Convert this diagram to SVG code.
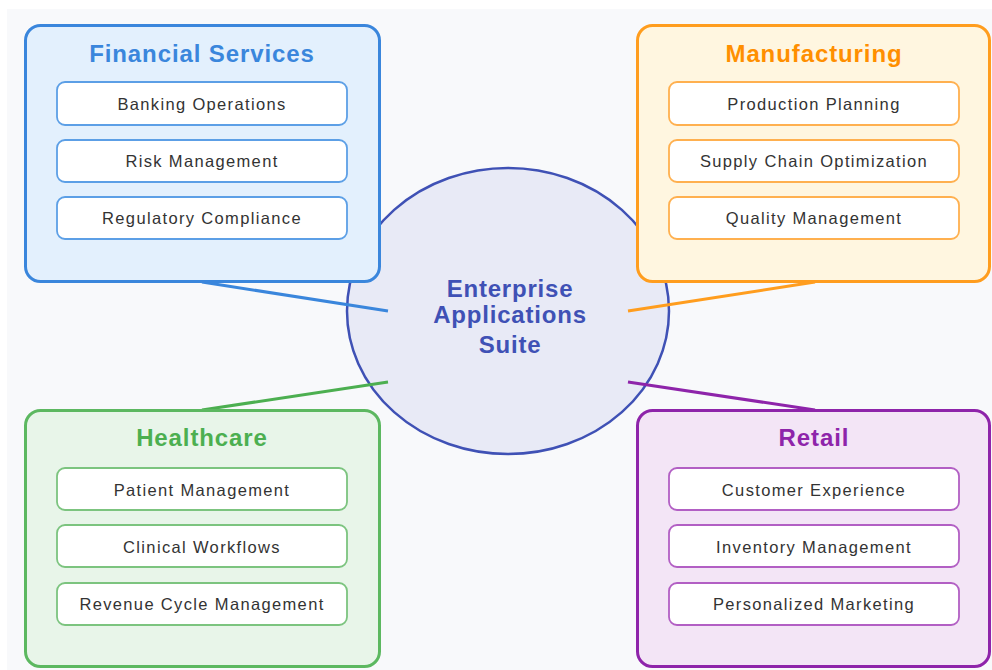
<svg xmlns="http://www.w3.org/2000/svg" width="992" height="670" viewBox="0 0 992 670">
<style>
.box{stroke-width:3}
.item{fill:#ffffff;stroke-width:1.8}
.title{font-family:"Liberation Sans",Arial,sans-serif;font-size:24px;font-weight:bold;text-anchor:middle;letter-spacing:0.9px}
.it{font-family:"Liberation Sans",Arial,sans-serif;font-size:16.5px;fill:#333333;text-anchor:middle;letter-spacing:1.35px}
.ct{font-family:"Liberation Sans",Arial,sans-serif;font-size:24px;font-weight:bold;fill:#3f51b5;text-anchor:middle;letter-spacing:0.8px}
.conn{stroke-width:3;fill:none}
</style>
<rect x="0" y="0" width="992" height="670" fill="#ffffff"/>
<rect x="7" y="9" width="985" height="661" fill="#f8f9fb"/>
<g id="center">
<ellipse cx="508" cy="311" rx="161" ry="143" fill="#e8eaf6" stroke="#3f51b5" stroke-width="2.5"/>
</g>
<g id="connectors">
<line class="conn" x1="202" y1="282" x2="388" y2="311" stroke="#3a86dc"/>
<line class="conn" x1="815" y1="282" x2="628" y2="311" stroke="#ff9d1e"/>
<line class="conn" x1="202" y1="410" x2="388" y2="382" stroke="#4caf50"/>
<line class="conn" x1="815" y1="410" x2="628" y2="382" stroke="#8e24aa"/>
</g>
<g id="financial">
<rect class="box" x="25.5" y="25.5" width="354" height="256" rx="15" fill="#e3f0fd" stroke="#3a86dc"/>
<text class="title" x="202" y="62" fill="#3a86dc">Financial Services</text>
<rect class="item" x="57" y="82" width="290" height="43" rx="8" stroke="#5c9fe6"/>
<text class="it" x="202" y="110">Banking Operations</text>
<rect class="item" x="57" y="140" width="290" height="42" rx="8" stroke="#5c9fe6"/>
<text class="it" x="202" y="167">Risk Management</text>
<rect class="item" x="57" y="197" width="290" height="42" rx="8" stroke="#5c9fe6"/>
<text class="it" x="202" y="224">Regulatory Compliance</text>
</g>
<g id="manufacturing">
<rect class="box" x="637.5" y="25.5" width="352" height="256" rx="15" fill="#fff6e0" stroke="#ff9d1e"/>
<text class="title" x="814" y="62" fill="#ff8f00">Manufacturing</text>
<rect class="item" x="669" y="82" width="290" height="43" rx="8" stroke="#ffb04f"/>
<text class="it" x="814" y="110">Production Planning</text>
<rect class="item" x="669" y="140" width="290" height="42" rx="8" stroke="#ffb04f"/>
<text class="it" x="814" y="167">Supply Chain Optimization</text>
<rect class="item" x="669" y="197" width="290" height="42" rx="8" stroke="#ffb04f"/>
<text class="it" x="814" y="224">Quality Management</text>
</g>
<g id="healthcare">
<rect class="box" x="25.5" y="410.5" width="354" height="256" rx="15" fill="#e8f5e9" stroke="#5cb860"/>
<text class="title" x="202" y="446" fill="#4caf50">Healthcare</text>
<rect class="item" x="57" y="468" width="290" height="42" rx="8" stroke="#7cc47f"/>
<text class="it" x="202" y="496">Patient Management</text>
<rect class="item" x="57" y="525" width="290" height="42" rx="8" stroke="#7cc47f"/>
<text class="it" x="202" y="553">Clinical Workflows</text>
<rect class="item" x="57" y="583" width="290" height="42" rx="8" stroke="#7cc47f"/>
<text class="it" x="202" y="610">Revenue Cycle Management</text>
</g>
<g id="retail">
<rect class="box" x="637.5" y="410.5" width="352" height="256" rx="15" fill="#f3e5f6" stroke="#8e24aa"/>
<text class="title" x="814" y="446" fill="#8e24aa">Retail</text>
<rect class="item" x="669" y="468" width="290" height="42" rx="8" stroke="#b25fc4"/>
<text class="it" x="814" y="496">Customer Experience</text>
<rect class="item" x="669" y="525" width="290" height="42" rx="8" stroke="#b25fc4"/>
<text class="it" x="814" y="553">Inventory Management</text>
<rect class="item" x="669" y="583" width="290" height="42" rx="8" stroke="#b25fc4"/>
<text class="it" x="814" y="610">Personalized Marketing</text>
</g>
<g id="center-label">
<text class="ct" x="510" y="297">Enterprise</text>
<text class="ct" x="510" y="323">Applications</text>
<text class="ct" x="510" y="353">Suite</text>
</g>
</svg>
